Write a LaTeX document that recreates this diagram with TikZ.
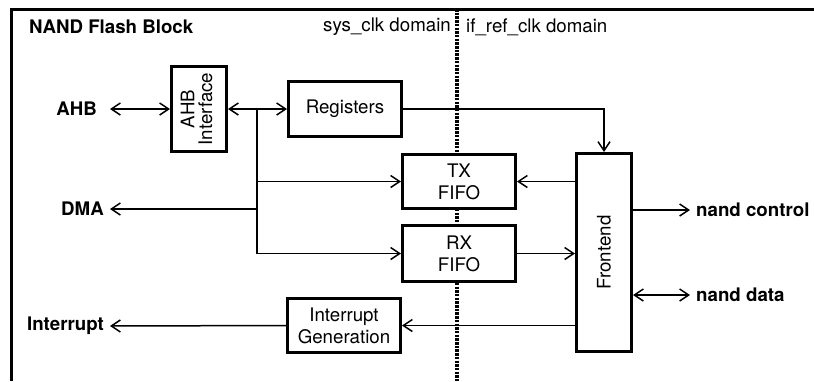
\documentclass[tikz,border=0pt]{standalone}
\usepackage{fontspec}
\setmainfont{TeX Gyre Heros}
\usetikzlibrary{arrows.meta, positioning}

\begin{document}
\begin{tikzpicture}[x=1pt, y=1pt, every node/.style={inner sep=3pt},
    font=\fontsize{18.7}{21.7}\selectfont,
    block/.style={rectangle, draw=black, line width=3pt, fill=white, minimum width=113pt, minimum height=55pt, align=center},
    tallblock/.style={block, minimum width=55pt},
    port/.style={font=\fontsize{18.7}{21.7}\selectfont\bfseries, inner xsep=6pt},
    line/.style={line width=1.5pt},
    arrow/.style={line, -{Straight Barb[length=9pt, width=12pt]}},
    dblarrow/.style={line, {Straight Barb[length=9pt, width=12pt]}-{Straight Barb[length=9pt, width=12pt]}},
    frame/.style={line width=3pt},
    clkboundary/.style={line width=3.5pt, dash pattern=on 2.5pt off 1.2pt}
    ]
    \useasboundingbox (0,0) rectangle (814,-381);

    % Block outline and clock domain boundary
    \draw [frame] (11,-381) -- (11,-9) -- (814,-9);
    \draw [clkboundary] (457,-9) -- (457,-381);

    % Titles
    \node (title) [anchor=west, font=\fontsize{18.7}{21.7}\selectfont\bfseries] at (26,-27) {NAND Flash Block};
    \node (sysclk) [anchor=east] at (454,-27) {sys\_clk domain};
    \node (ifclk) [anchor=west] at (463,-27) {if\_ref\_clk domain};

    % Blocks
    \node (ahbif) [tallblock, minimum height=85pt] at (199,-109) {\rotatebox{90}{\begin{tabular}{@{}c@{}}AHB\\[-4pt]Interface\end{tabular}}};
    \node (regs) [block, right=59pt of ahbif] {Registers};
    \node (txfifo) [block, minimum height=54pt] at (459,-181.5) {TX\\FIFO};
    \node (rxfifo) [block, minimum height=56pt, below=14pt of txfifo] {RX\\FIFO};
    \node (intgen) [block, minimum height=54pt] at (344,-325.5) {Interrupt\\Generation};
    \node (frontend) [tallblock, minimum height=198pt] at (604,-252.5) {\rotatebox{90}{Frontend}};

    % Ports
    \node (ahb) [port, anchor=east, inner xsep=13pt] at (110,-109) {AHB};
    \node (dma) [port, anchor=east] at (110,-209) {DMA};
    \node (irq) [port, anchor=east] at (110,-326) {Interrupt};
    \node (ctrl) [port, anchor=west] at (690,-210) {nand control};
    \node (data) [port, anchor=west] at (690,-295) {nand data};

    \coordinate (split) at (257,-109);

    % Arrows - sys_clk side
    \draw [dblarrow] (ahb.east) -- (ahbif.west);
    \draw [dblarrow] (ahbif.east) -- (regs.west);
    \draw [arrow] (split) |- (rxfifo.west);
    \draw [arrow] (split |- txfifo.west) -- (txfifo.west);
    \draw [arrow] (split |- dma.east) -- (dma.east);
    \draw [arrow] (intgen.west) -- (irq.east);

    % Arrows - if_ref_clk side
    \draw [arrow] (regs.east) -| (frontend.north);
    \draw [arrow] (frontend.west |- txfifo.east) -- (txfifo.east);
    \draw [arrow] (rxfifo.east) -- (rxfifo.east -| frontend.west);
    \draw [arrow] (frontend.west |- intgen.east) -- (intgen.east);
    \draw [arrow] (frontend.east |- ctrl.west) -- (ctrl.west);
    \draw [dblarrow] (frontend.east |- data.west) -- (data.west);

\end{tikzpicture}
\end{document}
